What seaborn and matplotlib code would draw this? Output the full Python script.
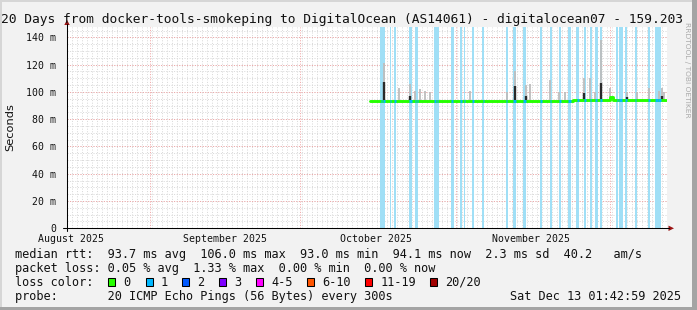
import matplotlib
matplotlib.use('Agg')
import matplotlib.pyplot as plt
from matplotlib.patches import Rectangle, Polygon
import seaborn as sns
import numpy as np

# ---------------- data (x in days since window start, Aug 15 2025) ----------------
month_start_days = [16.6, 46.6, 77.7, 108.6]          # Sep 1, Oct 1, Nov 1, Dec 1
month_label_days = [0.8, 31.6, 61.8, 92.8]
month_labels = ['August 2025', 'September 2025', 'October 2025', 'November 2025']

y_ticks = [0, 20, 40, 60, 80, 100, 120, 140]
y_tick_labels = ['0', '20 m', '40 m', '60 m', '80 m', '100 m', '120 m', '140 m']

# median rtt (ms), step changes
med_days = [60.6, 95.2, 101.2, 108.6, 109.2, 120.0]
med_vals = [93.2, 93.7, 94.0, 96.5, 94.3, 94.4]

# packet-loss intervals (1/20 loss)
loss_start = [62.74, 63.26, 64.6, 65.46, 68.4, 69.6, 69.94, 73.46, 73.94, 76.8,
              78.6, 79.4, 81.06, 83.14, 87.8, 89.26, 91.26, 94.66, 96.6, 98.4,
              100.26, 101.94, 103.4, 104.6, 105.66, 106.6, 109.94, 110.46, 111.6,
              113.6, 116.2, 117.6, 118.26]
loss_end = [63.06, 63.6, 64.8, 65.8, 68.94, 69.8, 70.14, 73.8, 74.26, 77.26,
            78.94, 79.6, 81.34, 83.4, 88.06, 89.8, 91.74, 95.0, 96.86, 98.8,
            100.74, 102.34, 103.8, 104.86, 106.06, 107.0, 110.2, 111.06, 112.0,
            113.86, 116.6, 118.14, 118.74]

# smoke (spread of the 20 pings)
smoke_days = [63.4, 66.4, 68.6, 69.6, 70.5, 71.6, 72.6, 80.6, 87.9, 89.6, 91.7,
              92.6, 96.6, 98.3, 99.6, 103.4, 104.6, 105.6, 106.7, 108.6, 111.9,
              113.9, 116.3, 118.3, 118.9, 119.4]
smoke_max = [121, 102.6, 106, 101, 102.5, 101, 100, 101, 100, 115, 105,
             106, 108.6, 100, 100, 110, 110, 100, 138, 102.6, 100,
             100, 102.6, 101, 102.6, 100]
dark_days = [63.4, 68.6, 89.6, 91.7, 103.4, 106.7, 111.9, 118.9]
dark_max = [107, 97, 104, 97, 99, 106.5, 96.5, 97]

loss_labels = ['0', '1', '2', '3', '4-5', '6-10', '11-19', '20/20']
loss_colors = ['#26ff00', '#00b8ff', '#0059ff', '#7e00ff', '#ff00ff', '#ff5500', '#ff0000', '#a10000']

title = '20 Days from docker-tools-smokeping to DigitalOcean (AS14061) - digitalocean07 - 159.203'
rtt_line = 'median rtt:  93.7 ms avg  106.0 ms max  93.0 ms min  94.1 ms now  2.3 ms sd  40.2   am/s'
loss_line = 'packet loss: 0.05 % avg  1.33 % max  0.00 % min  0.00 % now'
probe_line = 'probe:       20 ICMP Echo Pings (56 Bytes) every 300s'
date_text = 'Sat Dec 13 01:42:59 2025'

# ---------------- layout ----------------
W, H, DPI = 697, 310, 100
sns.set_style('white')
plt.rcParams['font.family'] = ['DejaVu Sans Mono']
MONO = 'DejaVu Sans Mono'
INK = '#111111'

X0, X1, Y0, Y1 = 67, 667, 228.3, 26.5
fig = plt.figure(figsize=(W / DPI, H / DPI), dpi=DPI, facecolor='#f2f2f2')
ax = fig.add_axes([X0 / W, 1 - Y0 / H, (X1 - X0) / W, (Y0 - Y1) / H])
ax.set_facecolor('white')
ax.set_xlim(0, 120)
ax.set_ylim(0, 148)
for s in ax.spines.values():
    s.set_visible(False)

# grid (faint dotted)
dot = (0, (1, 1.6))
ax.vlines(np.arange(1, 120), 0, 148, colors='#d9d9d9', lw=0.72, linestyles=dot, zorder=0.5)
ax.hlines(np.arange(5, 148, 5), 0, 120, colors='#d9d9d9', lw=0.72, linestyles=dot, zorder=0.5)
ax.vlines(month_start_days, 0, 148, colors='#f0a6a6', lw=0.72, linestyles=dot, zorder=0.6)
ax.hlines(y_ticks[1:], 0, 120, colors='#f0a6a6', lw=0.72, linestyles=dot, zorder=0.6)

# loss bars (slightly padded so 1-px bars render solid)
for s0, s1 in zip(loss_start, loss_end):
    ax.axvspan(s0 - 0.06, s1 + 0.06, color='#a0dff6', lw=0, zorder=1)

# smoke
med_d = np.array(med_days)
med_v = np.array(med_vals)
def med_at(d):
    i = np.searchsorted(med_d, d, side='right') - 1
    return med_v[max(i, 0)]

ax.vlines(smoke_days, [med_at(d) for d in smoke_days], smoke_max, colors='#bdbdbd', lw=1.3, zorder=2)
ax.vlines(dark_days, [med_at(d) for d in dark_days], dark_max, colors='#2a2a2a', lw=1.7, zorder=2.1)

# median
sns.lineplot(x=med_days, y=med_vals, drawstyle='steps-post', color='#26ff00', lw=2.1,
             ax=ax, zorder=3, legend=False)
for s0, s1 in zip(loss_start, loss_end):
    ax.hlines(med_at(s0), s0, s1, colors='#00b8ff', lw=2.1, zorder=3.1)

# ticks
ax.set_yticks(y_ticks, y_tick_labels)
ax.set_yticks(np.arange(0, 148, 5), minor=True)
ax.tick_params(axis='y', which='major', length=3, width=0.7, color='#505050', pad=5,
               labelsize=7.1, labelcolor=INK)
ax.tick_params(axis='y', which='minor', length=2, width=0.7, color='#a0a0a0')
ax.set_xticks(month_label_days, month_labels)
ax.tick_params(axis='x', which='major', length=0, pad=4.2, labelsize=7.1, labelcolor=INK)
for lab in ax.get_xticklabels() + ax.get_yticklabels():
    lab.set_family(MONO)
ax.set_xlabel('')
ax.set_ylabel('')

# ---------------- overlay in pixel coordinates ----------------
ov = fig.add_axes([0, 0, 1, 1], zorder=10)
ov.set_xlim(0, W)
ov.set_ylim(H, 0)
ov.axis('off')
ov.patch.set_alpha(0)

# borders
ov.add_patch(Rectangle((0, 0), W, 2, color='#d6d6d6', lw=0))
ov.add_patch(Rectangle((0, 0), 2, H, color='#d6d6d6', lw=0))
ov.add_patch(Rectangle((692, 0), 5, H, color='#a4a4a4', lw=0))
ov.add_patch(Rectangle((0, 307), W, 3, color='#a4a4a4', lw=0))

# axes with arrows
ov.plot([X0, X0], [231, 24], color='black', lw=0.75)
ov.plot([63, 669], [Y0, Y0], color='black', lw=0.75)
ov.add_patch(Polygon([(64.3, 25), (69.7, 25), (67, 19.8)], closed=True, color='#9a1414', lw=0))
ov.add_patch(Polygon([(668.5, 225.6), (668.5, 231), (674, 228.3)], closed=True, color='#9a1414', lw=0))

# title and labels
ov.text(1.0, 23.5, title, family=MONO, fontsize=9.3, ha='left', va='baseline', color=INK)
ov.text(10.7, 127.5, 'Seconds', family='DejaVu Sans', fontsize=8.2, rotation=90,
        ha='center', va='center', color=INK)
ov.text(687, 22, 'RRDTOOL / TOBI OETIKER', family='DejaVu Sans', fontsize=5.4, rotation=-90,
        ha='center', va='top', color='#aaaaaa')

LFS = 8.55
ov.text(15, 257.7, rtt_line, family=MONO, fontsize=LFS, ha='left', va='baseline', color=INK)
ov.text(15, 271.7, loss_line, family=MONO, fontsize=LFS, ha='left', va='baseline', color=INK)
ov.text(15, 285.7, 'loss color:', family=MONO, fontsize=LFS, ha='left', va='baseline', color=INK)
box_x = [108.3, 145.7, 182.3, 219, 256, 307.3, 365, 430]
for lab, col, bx in zip(loss_labels, loss_colors, box_x):
    ov.add_patch(Rectangle((bx, 278.4), 6.8, 7.2, facecolor=col, edgecolor='black', lw=0.75))
    ov.text(bx + 15.3, 285.7, lab, family=MONO, fontsize=LFS, ha='left', va='baseline', color=INK)
ov.text(15, 299.7, probe_line, family=MONO, fontsize=LFS, ha='left', va='baseline', color=INK)
ov.text(681, 299.7, date_text, family=MONO, fontsize=LFS, ha='right', va='baseline', color=INK)

fig.savefig('out.png', dpi=DPI, facecolor=fig.get_facecolor())
